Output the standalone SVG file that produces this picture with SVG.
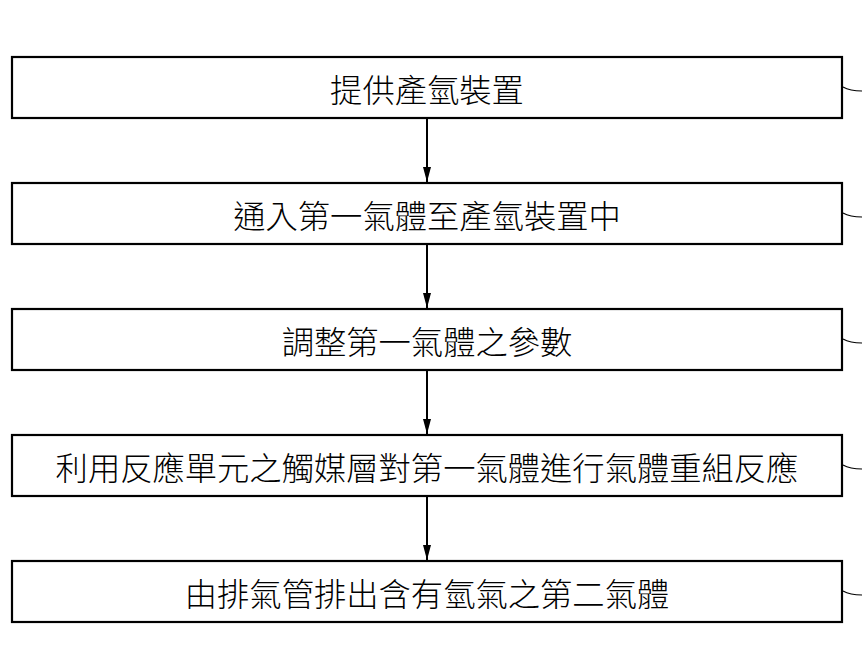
<svg xmlns="http://www.w3.org/2000/svg" width="862" height="647" viewBox="0 0 862 647">
<defs>
<style>
.box{fill:#fff;stroke:#000;stroke-width:2.2}
.t{font-family:"Noto Sans CJK TC","Noto Sans CJK SC",sans-serif;font-size:32.3px;font-weight:300;text-anchor:middle;dominant-baseline:central;fill:#000}
.c{stroke:#000;stroke-width:2;fill:none}
.lead{stroke:#000;stroke-width:1.2;fill:none}
</style>
<marker id="ah" markerWidth="16" markerHeight="10" refX="15" refY="5" orient="auto" markerUnits="userSpaceOnUse">
<path d="M0,1 L15,5 L0,9 Z" fill="#000"/>
</marker>
</defs>
<g id="connectors">
<line class="c" x1="427" y1="118" x2="427" y2="182" marker-end="url(#ah)"/>
<line class="c" x1="427" y1="244" x2="427" y2="308" marker-end="url(#ah)"/>
<line class="c" x1="427" y1="370" x2="427" y2="434" marker-end="url(#ah)"/>
<line class="c" x1="427" y1="496" x2="427" y2="560" marker-end="url(#ah)"/>
</g>
<g id="n1"><rect class="box" x="12" y="57" width="830" height="61"/><text class="t" x="427" y="88">提供產氫裝置</text><path class="lead" d="M843,87 Q850,91 862,91"/></g>
<g id="n2"><rect class="box" x="12" y="183" width="830" height="61"/><text class="t" x="427" y="214">通入第一氣體至產氫裝置中</text><path class="lead" d="M843,213 Q850,217 862,217"/></g>
<g id="n3"><rect class="box" x="12" y="309" width="830" height="61"/><text class="t" x="427" y="340">調整第一氣體之參數</text><path class="lead" d="M843,339 Q850,343 862,343"/></g>
<g id="n4"><rect class="box" x="12" y="435" width="830" height="61"/><text class="t" x="427" y="466">利用反應單元之觸媒層對第一氣體進行氣體重組反應</text><path class="lead" d="M843,465 Q850,469 862,469"/></g>
<g id="n5"><rect class="box" x="12" y="561" width="830" height="61"/><text class="t" x="427" y="592">由排氣管排出含有氫氣之第二氣體</text><path class="lead" d="M843,591 Q850,595 862,595"/></g>
</svg>
